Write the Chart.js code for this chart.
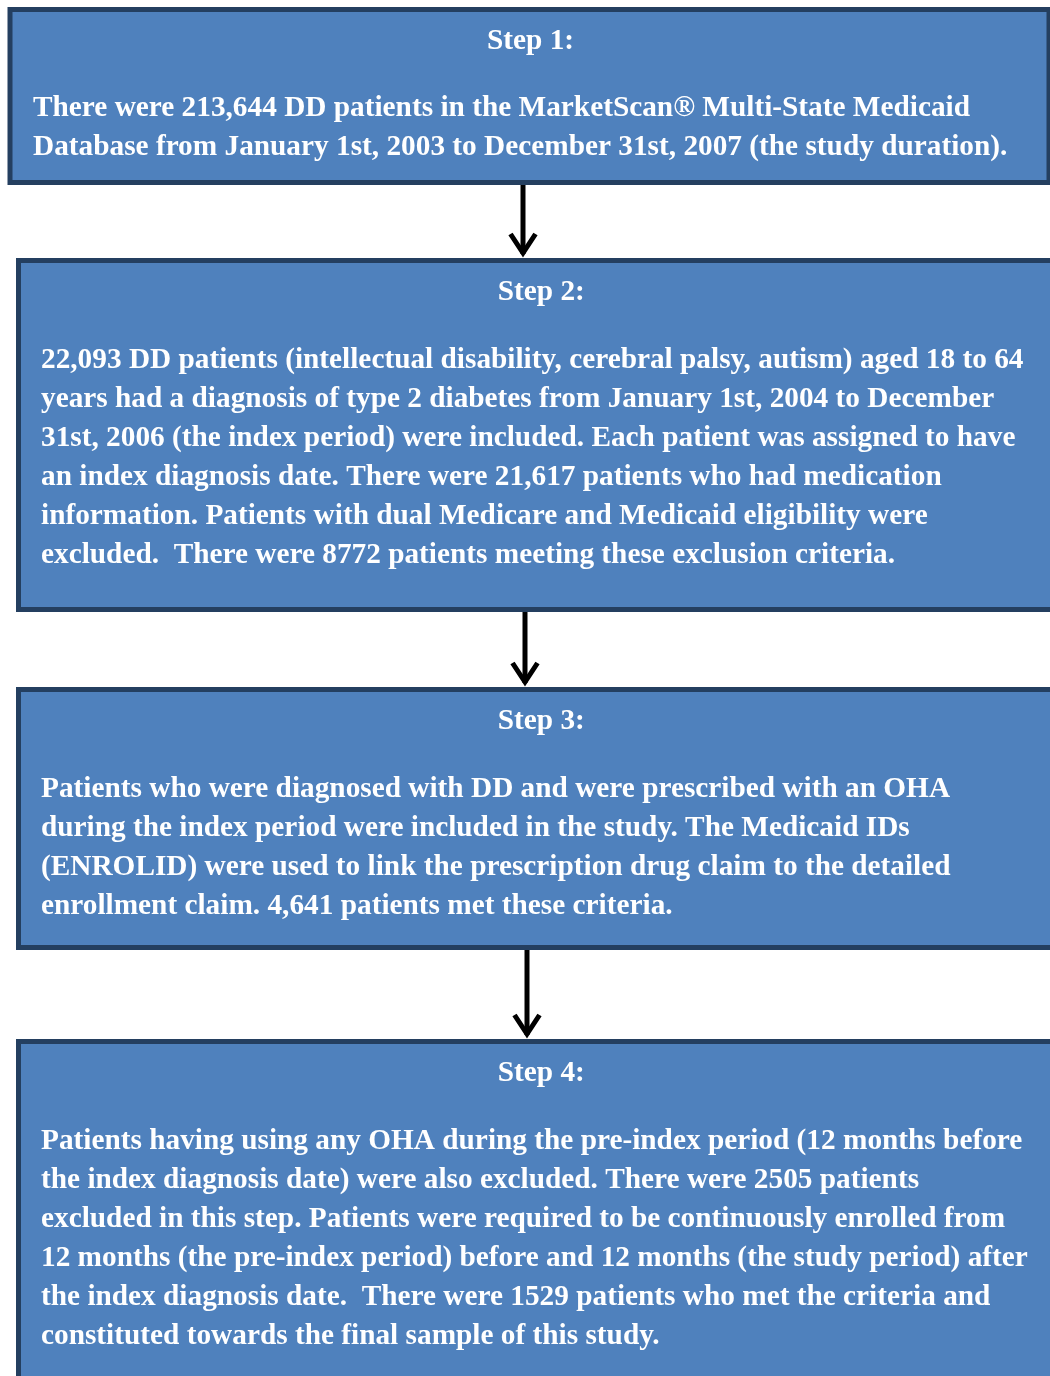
<!DOCTYPE html>
<html>
<head>
<meta charset="utf-8">
<script src="https://cdn.jsdelivr.net/npm/chart.js@4/dist/chart.umd.min.js"></script>
<style>
html,body{margin:0;padding:0;background:#fff;}
#wrap{width:1050px;height:1376px;}
</style>
</head>
<body>
<div id="wrap"><canvas id="c" width="1050" height="1376"></canvas></div>
<script>
// ---- content ----
const stepTitles = ["Step 1:", "Step 2:", "Step 3:", "Step 4:"];
const step1Lines = [
  "There were 213,644 DD patients in the MarketScan\u00AE Multi-State Medicaid",
  "Database from January 1st, 2003 to December 31st, 2007 (the study duration)."
];
const step2Lines = [
  "22,093 DD patients (intellectual disability, cerebral palsy, autism) aged 18 to 64",
  "years had a diagnosis of type 2 diabetes from January 1st, 2004 to December",
  "31st, 2006 (the index period) were included. Each patient was assigned to have",
  "an index diagnosis date. There were 21,617 patients who had medication",
  "information. Patients with dual Medicare and Medicaid eligibility were",
  "excluded.  There were 8772 patients meeting these exclusion criteria."
];
const step3Lines = [
  "Patients who were diagnosed with DD and were prescribed with an OHA",
  "during the index period were included in the study. The Medicaid IDs",
  "(ENROLID) were used to link the prescription drug claim to the detailed",
  "enrollment claim. 4,641 patients met these criteria."
];
const step4Lines = [
  "Patients having using any OHA during the pre-index period (12 months before",
  "the index diagnosis date) were also excluded. There were 2505 patients",
  "excluded in this step. Patients were required to be continuously enrolled from",
  "12 months (the pre-index period) before and 12 months (the study period) after",
  "the index diagnosis date.  There were 1529 patients who met the criteria and",
  "constituted towards the final sample of this study."
];
const stepLines = [step1Lines, step2Lines, step3Lines, step4Lines];

// ---- layout (in scale units = pixels of the 1050x1376 page) ----
const layout = {
  boxes: [
    {x0: 10, x1: 1049, y0: 9.5, y1: 182.5, titleY: 41.5, textX: 33, firstLineY: 108.5},
    {x0: 18.5, x1: 1062, y0: 260.5, y1: 609.5, titleY: 292.5, textX: 41, firstLineY: 360.5},
    {x0: 18.5, x1: 1062, y0: 689.5, y1: 947.5, titleY: 721.5, textX: 41, firstLineY: 789.5},
    {x0: 18.5, x1: 1062, y0: 1041.5, y1: 1400, titleY: 1073.5, textX: 41, firstLineY: 1141.5}
  ],
  arrows: [
    {x: 523, y0: 185, y1: 258},
    {x: 525, y0: 612, y1: 687},
    {x: 527, y0: 950, y1: 1039}
  ],
  lineGap: 38.9,
  fill: "#4F81BD",
  border: "#243F60",
  borderWidth: 5,
  font: 'bold 29.3px "Liberation Serif", "Times New Roman", serif'
};

const flowPlugin = {
  id: "flow",
  afterDraw(chart) {
    const ctx = chart.ctx;
    const xs = chart.scales.x, ys = chart.scales.y;
    const px = v => xs.getPixelForValue(v);
    const py = v => ys.getPixelForValue(v);
    ctx.save();
    layout.boxes.forEach((b, i) => {
      const x0 = px(b.x0), x1 = px(b.x1), y0 = py(b.y0), y1 = py(b.y1);
      ctx.fillStyle = layout.fill;
      ctx.fillRect(x0, y0, x1 - x0, y1 - y0);
      ctx.strokeStyle = layout.border;
      ctx.lineWidth = layout.borderWidth;
      ctx.strokeRect(x0, y0, x1 - x0, y1 - y0);
      ctx.fillStyle = "#ffffff";
      ctx.font = layout.font;
      ctx.textBaseline = "middle";
      ctx.textAlign = "center";
      ctx.fillText(stepTitles[i], (x0 + x1) / 2 + 1, py(b.titleY));
      ctx.textAlign = "left";
      stepLines[i].forEach((line, j) => {
        ctx.fillText(line, px(b.textX), py(b.firstLineY + j * layout.lineGap));
      });
    });
    ctx.strokeStyle = "#000";
    ctx.fillStyle = "#000";
    layout.arrows.forEach(a => {
      const x = px(a.x), y0 = py(a.y0), y1 = py(a.y1);
      ctx.lineWidth = 5;
      ctx.lineCap = "butt";
      ctx.beginPath();
      ctx.moveTo(x, y0);
      ctx.lineTo(x, y1 - 4);
      ctx.stroke();
      ctx.lineWidth = 5;
      ctx.lineJoin = "miter";
      ctx.beginPath();
      ctx.moveTo(x - 12.5, y1 - 24);
      ctx.lineTo(x, y1 - 5);
      ctx.lineTo(x + 12.5, y1 - 24);
      ctx.stroke();
    });
    ctx.restore();
  }
};

new Chart(document.getElementById("c"), {
  type: "scatter",
  data: { datasets: [{ data: [], pointRadius: 0 }] },
  options: {
    responsive: false,
    devicePixelRatio: 1,
    animation: false,
    layout: { padding: 0 },
    plugins: { legend: { display: false }, tooltip: { enabled: false } },
    scales: {
      x: { type: "linear", min: 0, max: 1050, display: false },
      y: { type: "linear", min: 0, max: 1376, reverse: true, display: false }
    }
  },
  plugins: [flowPlugin]
});
</script>
</body>
</html>
